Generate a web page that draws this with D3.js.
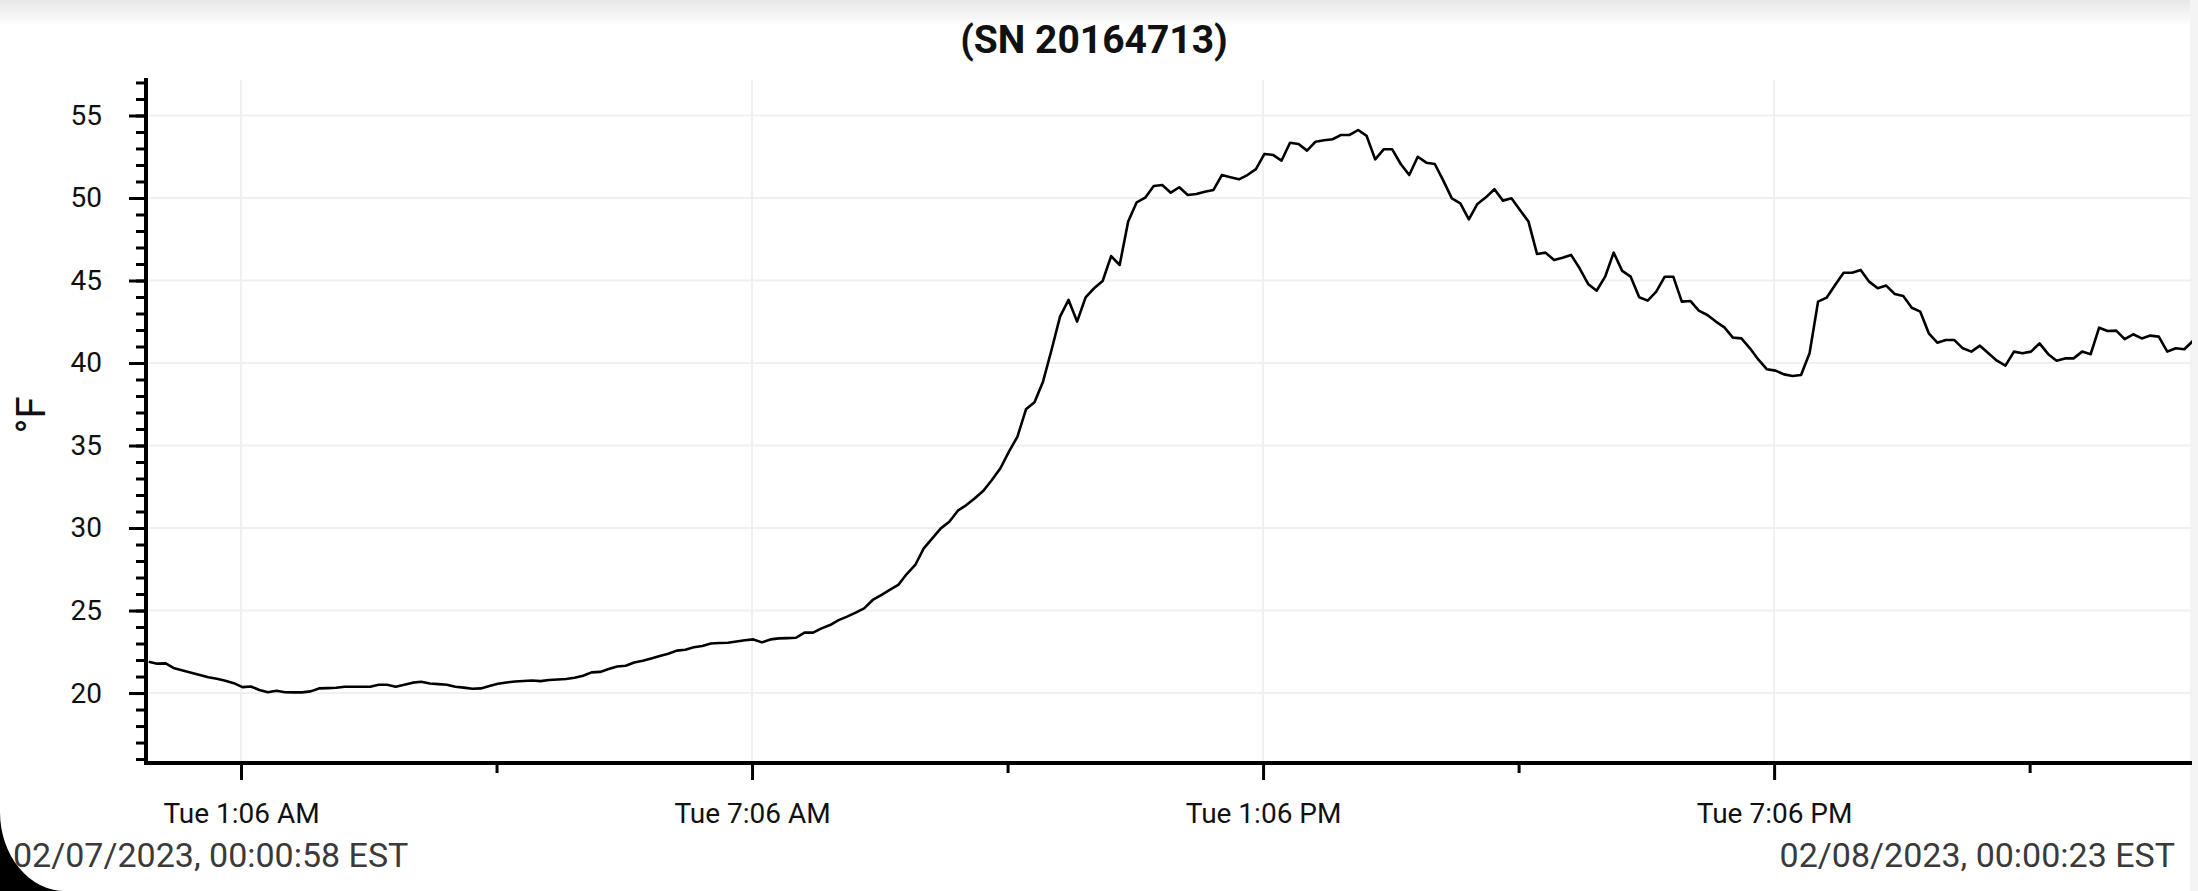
<!DOCTYPE html>
<html>
<head>
<meta charset="utf-8">
<script src="https://cdn.jsdelivr.net/npm/d3@7"></script>
<style>
	html, body { margin: 0; padding: 0; background: #fff; overflow: hidden; }
	svg { display: block; font-family: Roboto, "Noto Sans", sans-serif; }
</style>
</head>
<body>
<div id="root"></div>
<script>
// logger info
const title = '(SN 20164713)'
const unitLabel = '°F'
const startStamp = '02/07/2023, 00:00:58 EST'
const endStamp = '02/08/2023, 00:00:23 EST'
const sampleStepMin = 6

// readings, one every 6 minutes from the start stamp
const tempF = [
	21.9, 21.78, 21.8, 21.5, 21.36, 21.23, 21.09, 20.96, 20.86, 20.75,
	20.6, 20.36, 20.4, 20.18, 20.05, 20.14, 20.05, 20.04, 20.04, 20.1,
	20.28, 20.3, 20.32, 20.38, 20.38, 20.38, 20.38, 20.5, 20.5, 20.38,
	20.5, 20.63, 20.68, 20.58, 20.54, 20.5, 20.38, 20.33, 20.26, 20.28,
	20.43, 20.56, 20.64, 20.7, 20.73, 20.76, 20.72, 20.79, 20.82, 20.85,
	20.93, 21.05, 21.25, 21.28, 21.45, 21.61, 21.65, 21.85, 21.96, 22.1,
	22.25, 22.38, 22.57, 22.62, 22.77, 22.85, 23.0, 23.03, 23.05, 23.12,
	23.2, 23.25, 23.07, 23.25, 23.31, 23.33, 23.35, 23.66, 23.66, 23.92,
	24.12, 24.42, 24.63, 24.87, 25.13, 25.64, 25.94, 26.25, 26.55, 27.21,
	27.76, 28.77, 29.37, 29.98, 30.38, 31.05, 31.39, 31.8, 32.26, 32.91,
	33.62, 34.63, 35.54, 37.19, 37.62, 38.87, 40.79, 42.81, 43.82, 42.51,
	43.98, 44.53, 44.97, 46.48, 45.94, 48.57, 49.74, 50.02, 50.73, 50.79,
	50.32, 50.65, 50.18, 50.24, 50.38, 50.48, 51.39, 51.26, 51.13, 51.39,
	51.75, 52.67, 52.61, 52.26, 53.35, 53.27, 52.87, 53.41, 53.5, 53.56,
	53.82, 53.82, 54.12, 53.76, 52.34, 52.95, 52.95, 52.06, 51.39, 52.5,
	52.14, 52.06, 51.05, 49.98, 49.68, 48.71, 49.64, 50.04, 50.53, 49.84,
	49.98, 49.27, 48.57, 46.61, 46.69, 46.24, 46.38, 46.55, 45.74, 44.79,
	44.38, 45.23, 46.69, 45.58, 45.23, 43.98, 43.78, 44.32, 45.23, 45.23,
	43.72, 43.76, 43.17, 42.91, 42.51, 42.16, 41.54, 41.49, 40.89, 40.2,
	39.62, 39.54, 39.31, 39.21, 39.27, 40.59, 43.72, 43.96, 44.73, 45.47,
	45.47, 45.64, 44.93, 44.53, 44.69, 44.18, 44.06, 43.35, 43.11, 41.8,
	41.23, 41.39, 41.39, 40.89, 40.69, 41.05, 40.59, 40.14, 39.84, 40.69,
	40.59, 40.69, 41.19, 40.55, 40.14, 40.28, 40.28, 40.69, 40.53, 42.14,
	41.94, 41.96, 41.45, 41.74, 41.49, 41.66, 41.6, 40.69, 40.89, 40.83,
	41.33
]

// ticks
const yMajor = [20, 25, 30, 35, 40, 45, 50, 55]
const yMinor = d3.range(16, 58)
const xMajorClock = ['01:06', '07:06', '13:06', '19:06']
const xMinorClock = ['04:06', '10:06', '16:06', '22:06']

const C = {
	width: 2198,
	height: 891,
	left: 148.7,
	axisX: 146,
	right: 2192,
	top: 80,
	bottom: 763,
	yLow: 15.76,
	yHigh: 57.15,
}

const parseStamp = d3.timeParse('%m/%d/%Y, %H:%M:%S EST')
const parseClock = d3.timeParse('%m/%d/%Y %H:%M')
const t0 = parseStamp(startStamp),
	t1 = parseStamp(endStamp)
const day = d3.timeFormat('%m/%d/%Y')(t0)

const data = tempF.map((v, i) => ({ t: d3.timeMinute.offset(t0, i * sampleStepMin), v: v }))
const xMajor = xMajorClock.map(s => parseClock(day + ' ' + s))
const xMinor = xMinorClock.map(s => parseClock(day + ' ' + s))

const svg = d3.select('#root').append('svg')
	.attr('width', C.width)
	.attr('height', C.height)

const defs = svg.append('defs')
const grad = defs.append('linearGradient')
	.attr('id', 'topShade')
	.attr('x1', 0).attr('y1', 0).attr('x2', 0).attr('y2', 1)
grad.append('stop').attr('offset', 0).attr('stop-color', '#e7e7e7')
grad.append('stop').attr('offset', 1).attr('stop-color', '#ffffff')

defs.append('clipPath').attr('id', 'plotClip')
	.append('rect')
	.attr('x', C.axisX)
	.attr('y', C.top - 10)
	.attr('width', C.right - C.axisX)
	.attr('height', C.bottom - C.top + 10)

// -- frame bits of the screenshot --
svg.append('rect')
	.attr('width', C.width).attr('height', 26)
	.attr('fill', 'url(#topShade)')
svg.append('rect')
	.attr('x', 2190).attr('width', 8).attr('height', C.height)
	.attr('fill', '#f4f4f4')

const x = d3.scaleTime()
	.domain([t0, t1])
	.range([C.left, C.right])

const y = d3.scaleLinear()
	.domain([C.yLow, C.yHigh])
	.range([C.bottom, C.top])

// -- grid --
svg.append('g')
	.selectAll('line')
	.data(yMajor)
	.join('line')
	.attr('x1', C.axisX).attr('x2', C.right)
	.attr('y1', d => y(d)).attr('y2', d => y(d))
	.attr('stroke', '#f0f0f0')
	.attr('stroke-width', 2)

svg.append('g')
	.selectAll('line')
	.data(xMajor)
	.join('line')
	.attr('x1', d => x(d)).attr('x2', d => x(d))
	.attr('y1', C.top).attr('y2', C.bottom)
	.attr('stroke', '#f0f0f0')
	.attr('stroke-width', 2)

// -- line --
const line = d3.line()
	.x(d => x(d.t))
	.y(d => y(d.v))

svg.append('path')
	.datum(data)
	.attr('clip-path', 'url(#plotClip)')
	.attr('d', line)
	.attr('fill', 'none')
	.attr('stroke', '#000')
	.attr('stroke-width', 2.6)
	.attr('stroke-linejoin', 'round')

// -- axis --
function styleAxis(g) {
	g.select('.domain').remove()
	g.selectAll('.tick line').attr('stroke', '#000').attr('stroke-width', 3)
	g.selectAll('.tick text')
		.attr('font-family', 'Roboto, "Noto Sans", sans-serif')
		.attr('fill', '#111')
}

svg.append('g')
	.attr('transform', `translate(${C.axisX},0)`)
	.call(d3.axisLeft(y).tickValues(yMinor).tickSize(10).tickFormat(''))
	.call(styleAxis)

svg.append('g')
	.attr('transform', `translate(${C.axisX},0)`)
	.call(d3.axisLeft(y).tickValues(yMajor).tickSize(17).tickPadding(27))
	.call(styleAxis)
	.selectAll('.tick text').attr('font-size', 28)

svg.append('g')
	.attr('transform', `translate(0,${C.bottom})`)
	.call(d3.axisBottom(x).tickValues(xMinor).tickSize(10).tickFormat(''))
	.call(styleAxis)

svg.append('g')
	.attr('transform', `translate(0,${C.bottom})`)
	.call(d3.axisBottom(x).tickValues(xMajor).tickSize(17).tickPadding(23)
		.tickFormat(d3.timeFormat('%a %-I:%M %p')))
	.call(styleAxis)
	.selectAll('.tick text').attr('font-size', 28)

svg.append('line')
	.attr('x1', C.axisX).attr('x2', C.axisX)
	.attr('y1', C.top - 2).attr('y2', C.bottom + 2)
	.attr('stroke', '#000').attr('stroke-width', 4)

svg.append('line')
	.attr('x1', C.axisX - 2).attr('x2', C.right)
	.attr('y1', C.bottom).attr('y2', C.bottom)
	.attr('stroke', '#000').attr('stroke-width', 4)

// -- texts --
svg.append('text')
	.attr('x', 1094).attr('y', 53)
	.attr('text-anchor', 'middle')
	.attr('font-size', 39)
	.attr('font-weight', 'bold')
	.attr('fill', '#111')
	.text(title)

svg.append('text')
	.attr('transform', 'translate(45,415) rotate(-90)')
	.attr('text-anchor', 'middle')
	.attr('font-size', 40)
	.attr('fill', '#111')
	.text(unitLabel)

svg.append('text')
	.attr('x', 13).attr('y', 867)
	.attr('font-size', 34)
	.attr('fill', '#3a3a3a')
	.text(startStamp)

svg.append('text')
	.attr('x', 2175).attr('y', 867)
	.attr('text-anchor', 'end')
	.attr('font-size', 34)
	.attr('fill', '#3a3a3a')
	.text(endStamp)

// rounded screen corner, bottom left
svg.append('path')
	.attr('d', 'M0,812 A65,79 0 0 0 65,891 L0,891 Z')
	.attr('fill', '#000')
</script>
</body>
</html>
